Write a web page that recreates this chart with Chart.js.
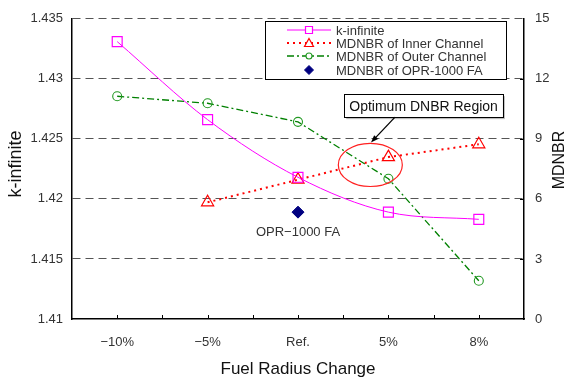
<!DOCTYPE html>
<html>
<head>
<meta charset="utf-8">
<script src="https://cdn.jsdelivr.net/npm/chart.js@4.4.1/dist/chart.umd.min.js"></script>
<style>
  html, body { margin: 0; padding: 0; background: #fff; }
  #wrap { width: 575px; height: 380px; position: relative; }
</style>
</head>
<body>
<div id="wrap"><canvas id="chart"></canvas></div>
<script>
// 資料
const categories = ['\u221210%', '\u22125%', 'Ref.', '5%', '8%'];
const kInfinite = [1.4331, 1.4266, 1.4218, 1.4189, 1.4183];
const innerMdnbr = [null, 5.83, 6.96, 8.09, 8.73];
const outerMdnbr = [11.13, 10.78, 9.85, 7.01, 1.91];
const opr1000Mdnbr = [null, null, 5.34, null, null];
const seriesNames = ['k-infinite', 'MDNBR of Inner Channel', 'MDNBR of Outer Channel', 'MDNBR of OPR-1000 FA'];
const kTicks = [1.41, 1.415, 1.42, 1.425, 1.43, 1.435];
const mdnbrTicks = [0, 3, 6, 9, 12, 15];

const FONT = "'Liberation Sans', Arial, sans-serif";
const TXT = '#333';

function toPoints(arr) {
    return arr.map((v, i) => ({ x: i, y: v })).filter(p => p.y !== null);
}

const datasets = [
    {
        label: seriesNames[0], data: toPoints(kInfinite), yAxisID: 'y',
        borderColor: '#ff00ff', borderWidth: 1, cubicInterpolationMode: 'monotone',
        pointStyle: 'rect', pointRadius: 7, pointBorderWidth: 1.2,
        pointBorderColor: '#ff00ff', pointBackgroundColor: 'rgba(0,0,0,0)'
    },
    {
        label: seriesNames[1], data: toPoints(innerMdnbr), yAxisID: 'y1',
        borderColor: '#ff0000', borderWidth: 2, borderDash: [2, 4],
        pointStyle: 'triangle', pointRadius: 7, pointBorderWidth: 1.2,
        pointBorderColor: '#ff0000', pointBackgroundColor: 'rgba(0,0,0,0)'
    },
    {
        label: seriesNames[2], data: toPoints(outerMdnbr), yAxisID: 'y1',
        borderColor: '#008000', borderWidth: 1.3, borderDash: [7, 3, 2, 3],
        pointStyle: 'circle', pointRadius: 4.5, pointBorderWidth: 1.1,
        pointBorderColor: '#229922', pointBackgroundColor: 'rgba(0,0,0,0)'
    },
    {
        label: seriesNames[3], data: toPoints(opr1000Mdnbr), yAxisID: 'y1',
        showLine: false,
        pointStyle: 'rectRot', pointRadius: 6, pointBorderWidth: 1,
        pointBorderColor: '#000080', pointBackgroundColor: '#000080'
    }
];

// 自訂繪製：刻度、圖例、標註、軸標題
const decorPlugin = {
    id: 'decor',
    afterDraw(chart) {
        const ctx = chart.ctx;
        const x = chart.scales.x, y1 = chart.scales.y1;
        const area = chart.chartArea;
        ctx.save();

        // 內向刻度
        ctx.strokeStyle = '#000';
        ctx.lineWidth = 1;
        for (let v = 0; v <= categories.length - 1; v += 0.5) {
            const px = Math.round(x.getPixelForValue(v)) + 0.5;
            ctx.beginPath();
            ctx.moveTo(px, area.bottom);
            ctx.lineTo(px, area.bottom - 4);
            ctx.stroke();
        }
        mdnbrTicks.slice(1, -1).forEach(v => {
            const py = Math.round(y1.getPixelForValue(v)) + 0.5;
            ctx.beginPath();
            ctx.moveTo(area.right, py);
            ctx.lineTo(area.right - 4, py);
            ctx.stroke();
        });

        // 標註：橢圓
        const cx = x.getPixelForValue(2.8), cy = y1.getPixelForValue(7.7);
        const rx = x.getPixelForValue(2.8 + 0.354) - cx;
        const ry = cy - y1.getPixelForValue(7.7 + 1.08);
        ctx.strokeStyle = '#ff2020';
        ctx.lineWidth = 1.2;
        ctx.beginPath();
        ctx.ellipse(cx, cy, rx, ry, 0, 0, Math.PI * 2);
        ctx.stroke();

        // 標註框
        ctx.font = '14px ' + FONT;
        const label = 'Optimum DNBR Region';
        const bx = x.getPixelForValue(3.389), by = y1.getPixelForValue(10.66);
        const tw = ctx.measureText(label).width;
        const bw = tw + 10, bh = 23;
        ctx.fillStyle = '#bbb';
        ctx.fillRect(bx - bw / 2 + 2, by - bh / 2 + 2, bw, bh);
        ctx.fillStyle = '#fff';
        ctx.fillRect(bx - bw / 2, by - bh / 2, bw, bh);
        ctx.strokeStyle = '#000';
        ctx.lineWidth = 1;
        ctx.strokeRect(Math.round(bx - bw / 2) + 0.5, Math.round(by - bh / 2) + 0.5, Math.round(bw), bh);
        ctx.fillStyle = '#111';
        ctx.textAlign = 'center';
        ctx.textBaseline = 'middle';
        ctx.fillText(label, bx, by + 1);

        // 箭頭
        const ax0 = x.getPixelForValue(3.073), ay0 = by + bh / 2;
        const ax1 = x.getPixelForValue(2.807), ay1 = y1.getPixelForValue(8.82);
        const ang = Math.atan2(ay1 - ay0, ax1 - ax0);
        ctx.strokeStyle = '#000';
        ctx.lineWidth = 1.3;
        ctx.beginPath();
        ctx.moveTo(ax0, ay0);
        ctx.lineTo(ax1 - 4 * Math.cos(ang), ay1 - 4 * Math.sin(ang));
        ctx.stroke();
        ctx.fillStyle = '#000';
        ctx.beginPath();
        ctx.moveTo(ax1, ay1);
        ctx.lineTo(ax1 - 8 * Math.cos(ang - 0.35), ay1 - 8 * Math.sin(ang - 0.35));
        ctx.lineTo(ax1 - 8 * Math.cos(ang + 0.35), ay1 - 8 * Math.sin(ang + 0.35));
        ctx.closePath();
        ctx.fill();

        // OPR-1000 FA 文字
        ctx.font = '13px ' + FONT;
        ctx.fillStyle = TXT;
        ctx.fillText('OPR\u22121000 FA', x.getPixelForValue(2), y1.getPixelForValue(4.31));

        // 圖例
        const lx = 265, ly = 21, lw = 241, lh = 58;
        ctx.fillStyle = '#fff';
        ctx.fillRect(lx, ly, lw, lh);
        ctx.strokeStyle = '#000';
        ctx.lineWidth = 1;
        ctx.strokeRect(lx + 0.5, ly + 0.5, lw, lh);
        const rows = [30, 43, 56, 70];
        ctx.textAlign = 'left';
        chart.data.datasets.forEach((ds, i) => {
            const ry0 = rows[i];
            if (ds.showLine !== false) {
                ctx.save();
                ctx.strokeStyle = ds.borderColor;
                ctx.lineWidth = ds.borderWidth;
                ctx.setLineDash(ds.borderDash || []);
                ctx.beginPath();
                ctx.moveTo(287, ry0);
                ctx.lineTo(331, ry0);
                ctx.stroke();
                ctx.restore();
            }
            ctx.save();
            ctx.strokeStyle = ds.pointBorderColor;
            ctx.lineWidth = ds.pointBorderWidth;
            ctx.beginPath();
            if (ds.pointStyle === 'rect') ctx.rect(305.5, ry0 - 3.5, 7, 7);
            else if (ds.pointStyle === 'triangle') { ctx.moveTo(309, ry0 - 4.5); ctx.lineTo(313.5, ry0 + 3.5); ctx.lineTo(304.5, ry0 + 3.5); ctx.closePath(); }
            else if (ds.pointStyle === 'circle') ctx.arc(309, ry0, 3, 0, Math.PI * 2);
            else { ctx.moveTo(309, ry0 - 4.5); ctx.lineTo(313.5, ry0); ctx.lineTo(309, ry0 + 4.5); ctx.lineTo(304.5, ry0); ctx.closePath(); }
            ctx.fillStyle = '#fff';
            if (ds.showLine === false) ctx.fillStyle = ds.pointBackgroundColor;
            ctx.fill();
            ctx.stroke();
            ctx.restore();
            ctx.fillStyle = TXT;
            ctx.font = '13px ' + FONT;
            ctx.fillText(ds.label, 336, ry0 + 1);
        });

        // 軸標題
        ctx.fillStyle = '#111';
        ctx.font = '17px ' + FONT;
        ctx.textAlign = 'center';
        ctx.fillText('Fuel Radius Change', (area.left + area.right) / 2, 369);
        ctx.save();
        ctx.font = '18px ' + FONT;
        ctx.translate(16, 164);
        ctx.rotate(-Math.PI / 2);
        ctx.fillText('k-infinite', 0, 0);
        ctx.restore();
        ctx.save();
        ctx.font = '16px ' + FONT;
        ctx.translate(560, 160);
        ctx.rotate(-Math.PI / 2);
        ctx.fillText('MDNBR', 0, 0);
        ctx.restore();

        ctx.restore();
    }
};

new Chart(document.getElementById('chart'), {
    type: 'line',
    data: { datasets: datasets },
    plugins: [decorPlugin],
    options: {
        responsive: true,
        maintainAspectRatio: false,
        animation: false,
        layout: { padding: { top: 13, left: 0, right: 0, bottom: 0 } },
        plugins: { legend: { display: false }, tooltip: { enabled: false } },
        scales: {
            x: {
                type: 'linear', min: -0.5, max: categories.length - 0.5,
                afterFit: s => { s.height = 61; },
                afterBuildTicks: s => {
                    s.ticks = [];
                    for (let v = -0.5; v <= categories.length - 0.5; v += 0.5) s.ticks.push({ value: v });
                },
                grid: { display: false, drawTicks: false },
                border: { display: true, color: '#000', width: 1.5 },
                ticks: {
                    autoSkip: false, maxRotation: 0, padding: 16,
                    color: TXT, font: { family: FONT, size: 13 },
                    callback: v => Number.isInteger(v) ? categories[v] : ''
                }
            },
            y: {
                position: 'left', min: kTicks[0], max: kTicks[kTicks.length - 1],
                afterFit: s => { s.width = 72; },
                afterBuildTicks: s => { s.ticks = kTicks.map(v => ({ value: v })); },
                grid: {
                    drawTicks: false, lineWidth: 1,
                    color: c => c.tick && c.tick.value <= kTicks[0] ? 'rgba(0,0,0,0)' : '#555'
                },
                border: { display: true, color: '#000', width: 1.5, dash: [8, 5] },
                ticks: {
                    padding: 9, color: TXT, font: { family: FONT, size: 13 },
                    callback: v => String(+v.toFixed(3))
                }
            },
            y1: {
                position: 'right', min: mdnbrTicks[0], max: mdnbrTicks[mdnbrTicks.length - 1],
                afterFit: s => { s.width = 51; },
                afterBuildTicks: s => { s.ticks = mdnbrTicks.map(v => ({ value: v })); },
                grid: { drawOnChartArea: false, drawTicks: false },
                border: { display: true, color: '#000', width: 1.5 },
                ticks: { padding: 11, color: TXT, font: { family: FONT, size: 13 } }
            }
        }
    }
});
</script>
</body>
</html>
